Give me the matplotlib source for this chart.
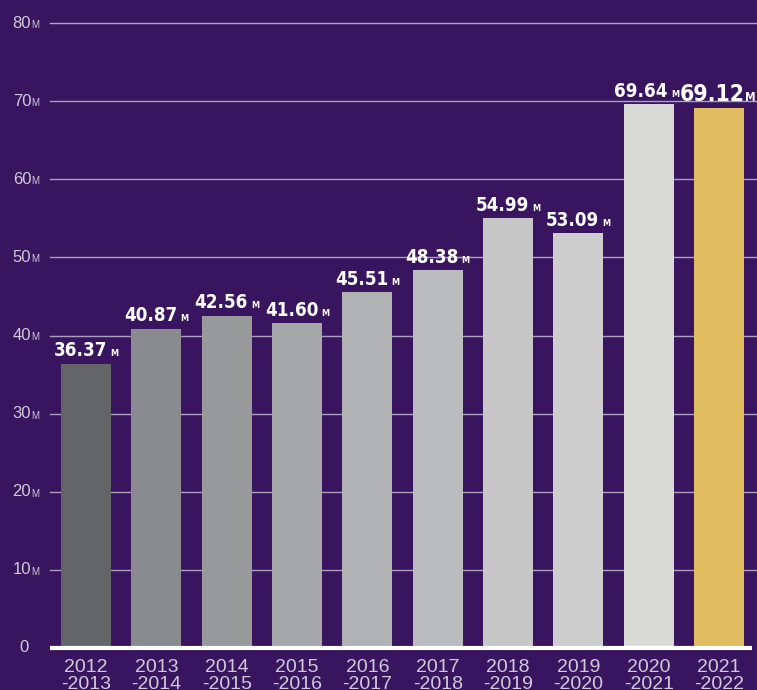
import numpy as np
import matplotlib.pyplot as plt
from matplotlib import font_manager
from matplotlib.font_manager import FontProperties

# Data
seasons = ["2012\n-2013", "2013\n-2014", "2014\n-2015", "2015\n-2016", "2016\n-2017",
           "2017\n-2018", "2018\n-2019", "2019\n-2020", "2020\n-2021", "2021\n-2022"]
values = [36.37, 40.87, 42.56, 41.60, 45.51, 48.38, 54.99, 53.09, 69.64, 69.12]
y_ticks = [0, 10, 20, 30, 40, 50, 60, 70, 80]

bar_colors = ['#646569', '#8a8b8e', '#98999b', '#a6a7a9', '#b1b2b4',
              '#bbbcbe', '#c6c6c6', '#cdcdcd', '#d9dad6', '#e2bc60']
bg = '#39155f'
tick_col = '#d0cad8'

# look for a condensed bold face for the value labels
cond = None
for key in ['DejaVuSansCondensed-Bold', 'LiberationSansNarrow-Bold', 'RobotoCondensed-Bold',
            'OpenSans_Condensed-Bold', 'NotoSans-CondensedBold', 'Condensed-Bold', 'Narrow-Bold']:
    for f in font_manager.fontManager.ttflist:
        if key in f.fname and 'Italic' not in f.fname and 'Oblique' not in f.fname:
            cond = f.fname
            break
    if cond:
        break


def val_font(size):
    if cond:
        return FontProperties(fname=cond, size=size)
    return FontProperties(family='Roboto', weight='bold', size=size)


fig = plt.figure(figsize=(7.57, 6.9), dpi=100, facecolor=bg)
ax = fig.add_axes([50 / 757, 42 / 690, 707 / 757, 625 / 690], facecolor=bg)

x = np.arange(len(values))
ax.bar(x, values, width=0.71, color=bar_colors, zorder=2)

ax.set_xlim(-0.512, 9.54)
ax.set_ylim(0, 80)

# grid lines
for t in y_ticks[1:]:
    ax.axhline(t, color='#aa9fbd', linewidth=1, zorder=1, clip_on=False)
ax.plot([-0.512, 9.47], [0, 0], color='white', linewidth=3, zorder=3,
        solid_capstyle='butt', clip_on=False)

for s in ax.spines.values():
    s.set_visible(False)
ax.set_xticks([])
ax.set_yticks([])

# y labels with small M
for t in y_ticks:
    if t == 0:
        ax.text(-0.88, t + 0.1, "0", color=tick_col, fontsize=12, family='Liberation Sans',
                ha='center', va='center')
    else:
        ax.text(-0.78, t, str(t), color=tick_col, fontsize=12, family='Liberation Sans',
                ha='right', va='center')
        ax.text(-0.78, t - 0.25, "M", color=tick_col, fontsize=7, family='Liberation Sans',
                ha='left', va='center')

# x labels
for xi, lab in zip(x, seasons):
    ax.text(xi, -1.45, lab, color=tick_col, fontsize=14, family='Liberation Sans',
            ha='center', va='top', linespacing=0.98)

# value labels: number plus small M, group roughly centred over bar
renderer = fig.canvas.get_renderer()
for i, v in enumerate(values):
    big = i == len(values) - 1
    fs = 16.5 if big else 13.5
    ms = 8.5 if big else 6.5
    t = ax.text(0, v + 0.95, f"{v:.2f}", color='white', fontproperties=val_font(fs),
                ha='left', va='baseline')
    m = ax.text(0, v + 0.95, "M", color='white', fontproperties=val_font(ms),
                ha='left', va='baseline')
    bt = t.get_window_extent(renderer=renderer)
    bm = m.get_window_extent(renderer=renderer)
    gap = 1 if big else 3
    total = bt.width + gap + bm.width
    if big:
        x0 = 756 - total
    else:
        x0 = ax.transData.transform((i, 0))[0] - total / 2 - (2 if i == 8 else 0)
    xd0 = ax.transData.inverted().transform((x0, 0))[0]
    xd1 = ax.transData.inverted().transform((x0 + bt.width + gap, 0))[0]
    t.set_x(xd0)
    m.set_x(xd1)

fig.savefig('out.png', dpi=100, facecolor=bg)
